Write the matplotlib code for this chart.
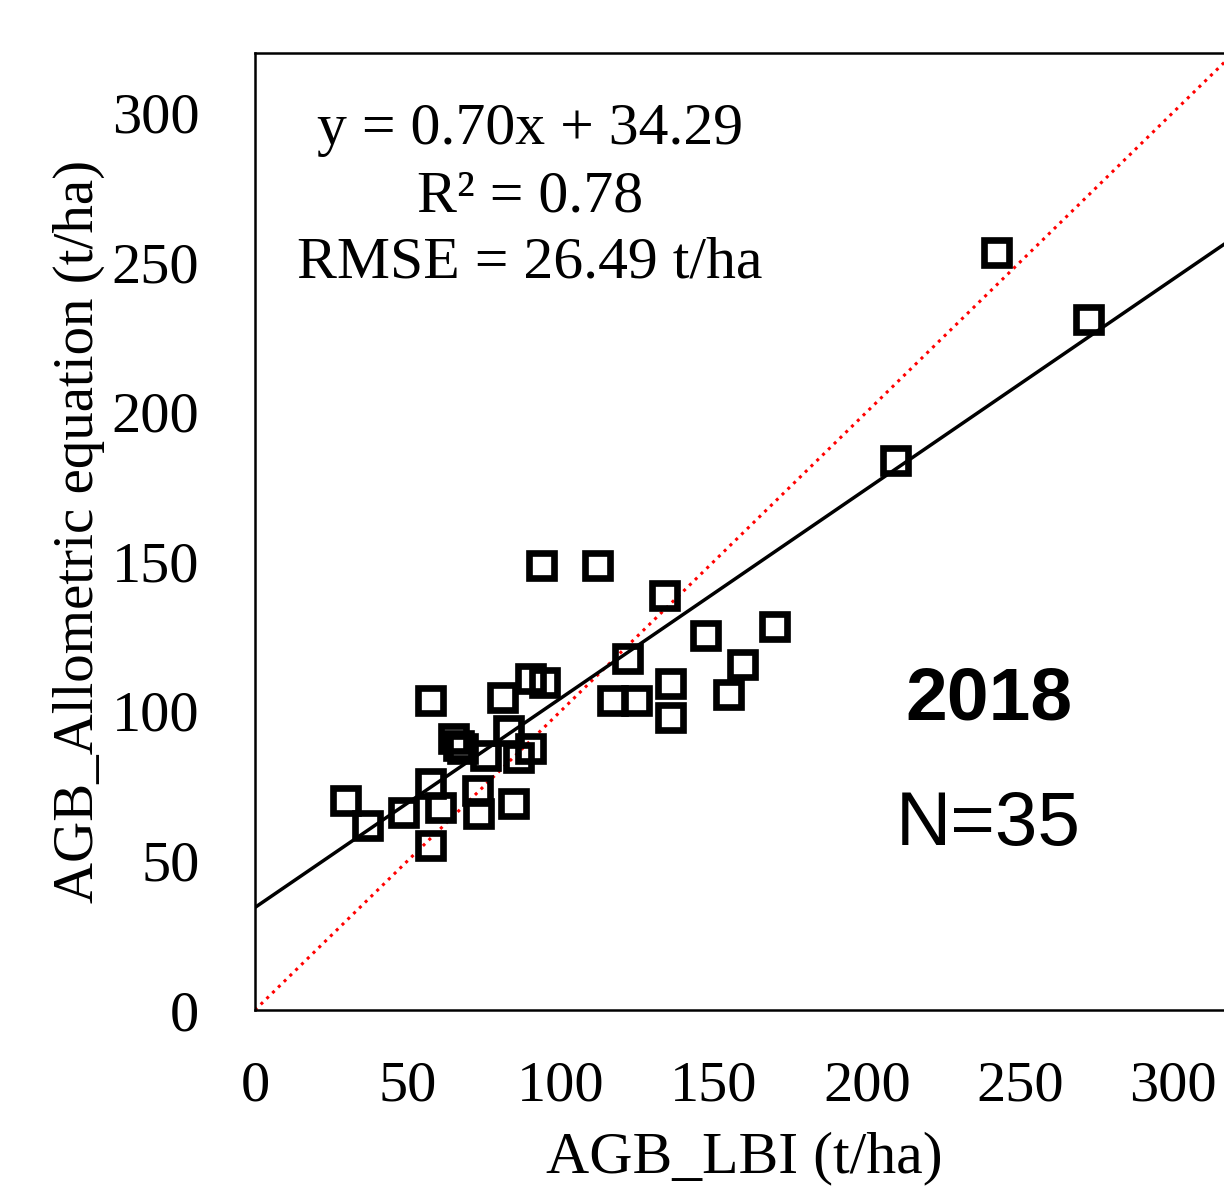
import numpy as np
import matplotlib.pyplot as plt

# AGB from LBI vs allometric equation, 2018 plots
agb_lbi = [29.4, 36.6, 48.4, 57.2, 57.2, 57.2, 60.5, 64.7, 66.3, 67.6,
           72.5, 72.9, 75.2, 80.7, 82.7, 84.3, 85.9, 89.9, 89.9, 94.4,
           93.5, 111.8, 116.7, 121.6, 124.5, 133.7, 135.6, 135.6, 147.1, 154.6,
           159.2, 169.6, 209.2, 242.2, 272.2]
agb_allo = [70.2, 61.8, 66.2, 103.6, 75.8, 55.1, 67.8, 90.9, 88.5, 87.5,
            73.5, 65.8, 85.2, 104.6, 93.6, 69.2, 84.5, 87.5, 110.9, 109.6,
            148.7, 148.7, 103.6, 117.6, 103.6, 138.7, 109.3, 97.9, 125.3, 105.6,
            115.6, 128.3, 183.8, 253.6, 231.2]
slope = 0.70
intercept = 34.29
r2 = 0.78
rmse = 26.49
ticks = [0, 50, 100, 150, 200, 250, 300]

plt.rcParams['font.family'] = ['Liberation Serif', 'DejaVu Serif']

fig = plt.figure(figsize=(12.24, 11.88), dpi=100)
ax = fig.add_axes([0.2083, 0.1498, 0.7998, 0.8056])

# 1:1 line and fitted line
xx = np.array([0, 320])
ax.plot(xx, xx, color='red', linestyle=':', linewidth=2.2, zorder=1)
ax.plot(xx, slope * xx + intercept, color='black', linewidth=2.5, zorder=2)

ax.plot(agb_lbi, agb_allo, linestyle='none', marker='s', markersize=18,
        markerfacecolor='none', markeredgecolor='black', markeredgewidth=4.8,
        zorder=3)

ax.set_xlim(0, 320)
ax.set_ylim(0, 320)
ax.set_xticks(ticks)
ax.set_yticks(ticks)
ax.tick_params(length=0, labelsize=42)
ax.tick_params(axis='y', pad=40)
ax.tick_params(axis='x', pad=36)
for s in ax.spines.values():
    s.set_linewidth(1.8)

ax.set_xlabel('AGB_LBI (t/ha)', fontsize=43, labelpad=14)
ax.set_ylabel('AGB_Allometric equation (t/ha)', fontsize=41, labelpad=5)

fig.text(530 / 1224, 1 - 130 / 1188, f'y = {slope:.2f}x + {intercept:.2f}',
         fontsize=43, ha='center', va='center')
fig.text(530 / 1224, 1 - 197 / 1188, f'R² = {r2:.2f}',
         fontsize=43, ha='center', va='center')
fig.text(530 / 1224, 1 - 263 / 1188, f'RMSE = {rmse:.2f} t/ha',
         fontsize=43, ha='center', va='center')

fig.text(989 / 1224, 1 - 700 / 1188, '2018', fontsize=54, fontweight='bold',
         family='Liberation Sans', ha='center', va='center')
fig.text(988 / 1224, 1 - 826 / 1188, 'N=35', fontsize=55,
         family='Liberation Sans', ha='center', va='center')

fig.savefig('out.png', dpi=100)
